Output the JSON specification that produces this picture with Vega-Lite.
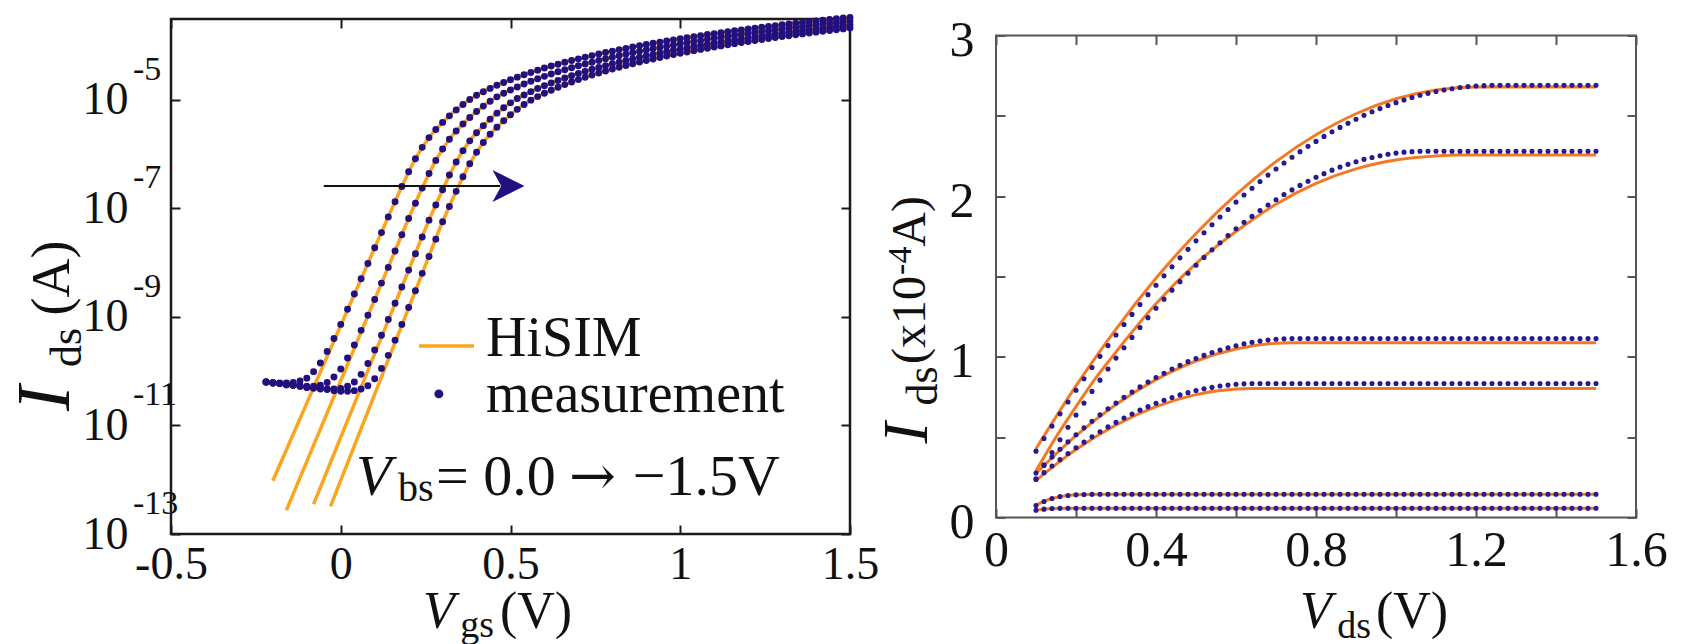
{
"$schema":"https://vega.github.io/schema/vega-lite/v6.json",
"background":"white",
"padding":{"left":6,"top":9,"right":10,"bottom":0},
"bounds":"flush",
"center":true,
"spacing":146,
"config":{"font":"Liberation Serif","view":{"stroke":"#1a1a1a","strokeWidth":2.5},
"axis":{"grid":false,"domain":false,"tickSize":-9,"tickWidth":2,"tickColor":"#1a1a1a","labelColor":"#111","labelFont":"Liberation Serif","labelFlush":false,"labelOverlap":false,"title":null},
"text":{"font":"Liberation Serif","color":"#111"}},
"datasets":{
"one":[{}],
"idvg_meas":[
{"Vbs":0,"Vgs":-0.22,"logIds":-10.2},{"Vbs":0,"Vgs":-0.2,"logIds":-10.21},{"Vbs":0,"Vgs":-0.18,"logIds":-10.22},{"Vbs":0,"Vgs":-0.16,"logIds":-10.22},{"Vbs":0,"Vgs":-0.14,"logIds":-10.21},{"Vbs":0,"Vgs":-0.12,"logIds":-10.18},{"Vbs":0,"Vgs":-0.1,"logIds":-10.13},{"Vbs":0,"Vgs":-0.08,"logIds":-10.01},{"Vbs":0,"Vgs":-0.06,"logIds":-9.85},{"Vbs":0,"Vgs":-0.04,"logIds":-9.64},{"Vbs":0,"Vgs":-0.02,"logIds":-9.4},{"Vbs":0,"Vgs":0,"logIds":-9.14},{"Vbs":0,"Vgs":0.02,"logIds":-8.86},{"Vbs":0,"Vgs":0.04,"logIds":-8.58},{"Vbs":0,"Vgs":0.06,"logIds":-8.3},{"Vbs":0,"Vgs":0.08,"logIds":-8.02},{"Vbs":0,"Vgs":0.1,"logIds":-7.73},{"Vbs":0,"Vgs":0.12,"logIds":-7.45},{"Vbs":0,"Vgs":0.14,"logIds":-7.16},{"Vbs":0,"Vgs":0.16,"logIds":-6.88},{"Vbs":0,"Vgs":0.18,"logIds":-6.6},{"Vbs":0,"Vgs":0.2,"logIds":-6.33},{"Vbs":0,"Vgs":0.22,"logIds":-6.09},{"Vbs":0,"Vgs":0.24,"logIds":-5.88},{"Vbs":0,"Vgs":0.26,"logIds":-5.7},{"Vbs":0,"Vgs":0.28,"logIds":-5.55},{"Vbs":0,"Vgs":0.3,"logIds":-5.42},{"Vbs":0,"Vgs":0.32,"logIds":-5.3},{"Vbs":0,"Vgs":0.34,"logIds":-5.19},{"Vbs":0,"Vgs":0.36,"logIds":-5.09},{"Vbs":0,"Vgs":0.38,"logIds":-5.0},{"Vbs":0,"Vgs":0.4,"logIds":-4.92},{"Vbs":0,"Vgs":0.42,"logIds":-4.855},{"Vbs":0,"Vgs":0.44,"logIds":-4.794},{"Vbs":0,"Vgs":0.46,"logIds":-4.737},{"Vbs":0,"Vgs":0.48,"logIds":-4.684},{"Vbs":0,"Vgs":0.5,"logIds":-4.634},{"Vbs":0,"Vgs":0.52,"logIds":-4.587},{"Vbs":0,"Vgs":0.54,"logIds":-4.542},{"Vbs":0,"Vgs":0.56,"logIds":-4.5},{"Vbs":0,"Vgs":0.58,"logIds":-4.459},{"Vbs":0,"Vgs":0.6,"logIds":-4.42},{"Vbs":0,"Vgs":0.62,"logIds":-4.383},{"Vbs":0,"Vgs":0.64,"logIds":-4.348},{"Vbs":0,"Vgs":0.66,"logIds":-4.314},{"Vbs":0,"Vgs":0.68,"logIds":-4.281},{"Vbs":0,"Vgs":0.7,"logIds":-4.25},{"Vbs":0,"Vgs":0.72,"logIds":-4.219},{"Vbs":0,"Vgs":0.74,"logIds":-4.19},{"Vbs":0,"Vgs":0.76,"logIds":-4.162},{"Vbs":0,"Vgs":0.78,"logIds":-4.134},{"Vbs":0,"Vgs":0.8,"logIds":-4.108},{"Vbs":0,"Vgs":0.82,"logIds":-4.082},{"Vbs":0,"Vgs":0.84,"logIds":-4.057},{"Vbs":0,"Vgs":0.86,"logIds":-4.033},{"Vbs":0,"Vgs":0.88,"logIds":-4.009},{"Vbs":0,"Vgs":0.9,"logIds":-3.986},{"Vbs":0,"Vgs":0.92,"logIds":-3.964},{"Vbs":0,"Vgs":0.94,"logIds":-3.942},{"Vbs":0,"Vgs":0.96,"logIds":-3.921},{"Vbs":0,"Vgs":0.98,"logIds":-3.9},{"Vbs":0,"Vgs":1.0,"logIds":-3.88},{"Vbs":0,"Vgs":1.02,"logIds":-3.86},{"Vbs":0,"Vgs":1.04,"logIds":-3.841},{"Vbs":0,"Vgs":1.06,"logIds":-3.822},{"Vbs":0,"Vgs":1.08,"logIds":-3.803},{"Vbs":0,"Vgs":1.1,"logIds":-3.785},{"Vbs":0,"Vgs":1.12,"logIds":-3.768},{"Vbs":0,"Vgs":1.14,"logIds":-3.75},{"Vbs":0,"Vgs":1.16,"logIds":-3.733},{"Vbs":0,"Vgs":1.18,"logIds":-3.717},{"Vbs":0,"Vgs":1.2,"logIds":-3.7},{"Vbs":0,"Vgs":1.22,"logIds":-3.684},{"Vbs":0,"Vgs":1.24,"logIds":-3.668},{"Vbs":0,"Vgs":1.26,"logIds":-3.653},{"Vbs":0,"Vgs":1.28,"logIds":-3.638},{"Vbs":0,"Vgs":1.3,"logIds":-3.623},{"Vbs":0,"Vgs":1.32,"logIds":-3.608},{"Vbs":0,"Vgs":1.34,"logIds":-3.594},{"Vbs":0,"Vgs":1.36,"logIds":-3.58},{"Vbs":0,"Vgs":1.38,"logIds":-3.566},{"Vbs":0,"Vgs":1.4,"logIds":-3.552},{"Vbs":0,"Vgs":1.42,"logIds":-3.539},{"Vbs":0,"Vgs":1.44,"logIds":-3.525},{"Vbs":0,"Vgs":1.46,"logIds":-3.512},{"Vbs":0,"Vgs":1.48,"logIds":-3.499},{"Vbs":0,"Vgs":1.5,"logIds":-3.487},
{"Vbs":-0.5,"Vgs":-0.22,"logIds":-10.2},{"Vbs":-0.5,"Vgs":-0.2,"logIds":-10.22},{"Vbs":-0.5,"Vgs":-0.18,"logIds":-10.23},{"Vbs":-0.5,"Vgs":-0.16,"logIds":-10.25},{"Vbs":-0.5,"Vgs":-0.14,"logIds":-10.26},{"Vbs":-0.5,"Vgs":-0.12,"logIds":-10.27},{"Vbs":-0.5,"Vgs":-0.1,"logIds":-10.28},{"Vbs":-0.5,"Vgs":-0.08,"logIds":-10.28},{"Vbs":-0.5,"Vgs":-0.06,"logIds":-10.26},{"Vbs":-0.5,"Vgs":-0.04,"logIds":-10.21},{"Vbs":-0.5,"Vgs":-0.02,"logIds":-10.11},{"Vbs":-0.5,"Vgs":0,"logIds":-9.96},{"Vbs":-0.5,"Vgs":0.02,"logIds":-9.76},{"Vbs":-0.5,"Vgs":0.04,"logIds":-9.52},{"Vbs":-0.5,"Vgs":0.06,"logIds":-9.25},{"Vbs":-0.5,"Vgs":0.08,"logIds":-8.97},{"Vbs":-0.5,"Vgs":0.1,"logIds":-8.68},{"Vbs":-0.5,"Vgs":0.12,"logIds":-8.38},{"Vbs":-0.5,"Vgs":0.14,"logIds":-8.09},{"Vbs":-0.5,"Vgs":0.16,"logIds":-7.79},{"Vbs":-0.5,"Vgs":0.18,"logIds":-7.49},{"Vbs":-0.5,"Vgs":0.2,"logIds":-7.19},{"Vbs":-0.5,"Vgs":0.22,"logIds":-6.91},{"Vbs":-0.5,"Vgs":0.24,"logIds":-6.63},{"Vbs":-0.5,"Vgs":0.26,"logIds":-6.36},{"Vbs":-0.5,"Vgs":0.28,"logIds":-6.12},{"Vbs":-0.5,"Vgs":0.3,"logIds":-5.91},{"Vbs":-0.5,"Vgs":0.32,"logIds":-5.73},{"Vbs":-0.5,"Vgs":0.34,"logIds":-5.58},{"Vbs":-0.5,"Vgs":0.36,"logIds":-5.45},{"Vbs":-0.5,"Vgs":0.38,"logIds":-5.33},{"Vbs":-0.5,"Vgs":0.4,"logIds":-5.22},{"Vbs":-0.5,"Vgs":0.42,"logIds":-5.12},{"Vbs":-0.5,"Vgs":0.44,"logIds":-5.03},{"Vbs":-0.5,"Vgs":0.46,"logIds":-4.95},{"Vbs":-0.5,"Vgs":0.48,"logIds":-4.885},{"Vbs":-0.5,"Vgs":0.5,"logIds":-4.824},{"Vbs":-0.5,"Vgs":0.52,"logIds":-4.767},{"Vbs":-0.5,"Vgs":0.54,"logIds":-4.714},{"Vbs":-0.5,"Vgs":0.56,"logIds":-4.664},{"Vbs":-0.5,"Vgs":0.58,"logIds":-4.617},{"Vbs":-0.5,"Vgs":0.6,"logIds":-4.572},{"Vbs":-0.5,"Vgs":0.62,"logIds":-4.53},{"Vbs":-0.5,"Vgs":0.64,"logIds":-4.489},{"Vbs":-0.5,"Vgs":0.66,"logIds":-4.45},{"Vbs":-0.5,"Vgs":0.68,"logIds":-4.413},{"Vbs":-0.5,"Vgs":0.7,"logIds":-4.378},{"Vbs":-0.5,"Vgs":0.72,"logIds":-4.344},{"Vbs":-0.5,"Vgs":0.74,"logIds":-4.311},{"Vbs":-0.5,"Vgs":0.76,"logIds":-4.28},{"Vbs":-0.5,"Vgs":0.78,"logIds":-4.249},{"Vbs":-0.5,"Vgs":0.8,"logIds":-4.22},{"Vbs":-0.5,"Vgs":0.82,"logIds":-4.192},{"Vbs":-0.5,"Vgs":0.84,"logIds":-4.164},{"Vbs":-0.5,"Vgs":0.86,"logIds":-4.138},{"Vbs":-0.5,"Vgs":0.88,"logIds":-4.112},{"Vbs":-0.5,"Vgs":0.9,"logIds":-4.087},{"Vbs":-0.5,"Vgs":0.92,"logIds":-4.063},{"Vbs":-0.5,"Vgs":0.94,"logIds":-4.039},{"Vbs":-0.5,"Vgs":0.96,"logIds":-4.016},{"Vbs":-0.5,"Vgs":0.98,"logIds":-3.994},{"Vbs":-0.5,"Vgs":1.0,"logIds":-3.972},{"Vbs":-0.5,"Vgs":1.02,"logIds":-3.951},{"Vbs":-0.5,"Vgs":1.04,"logIds":-3.93},{"Vbs":-0.5,"Vgs":1.06,"logIds":-3.91},{"Vbs":-0.5,"Vgs":1.08,"logIds":-3.89},{"Vbs":-0.5,"Vgs":1.1,"logIds":-3.871},{"Vbs":-0.5,"Vgs":1.12,"logIds":-3.852},{"Vbs":-0.5,"Vgs":1.14,"logIds":-3.833},{"Vbs":-0.5,"Vgs":1.16,"logIds":-3.815},{"Vbs":-0.5,"Vgs":1.18,"logIds":-3.798},{"Vbs":-0.5,"Vgs":1.2,"logIds":-3.78},{"Vbs":-0.5,"Vgs":1.22,"logIds":-3.763},{"Vbs":-0.5,"Vgs":1.24,"logIds":-3.747},{"Vbs":-0.5,"Vgs":1.26,"logIds":-3.73},{"Vbs":-0.5,"Vgs":1.28,"logIds":-3.714},{"Vbs":-0.5,"Vgs":1.3,"logIds":-3.698},{"Vbs":-0.5,"Vgs":1.32,"logIds":-3.683},{"Vbs":-0.5,"Vgs":1.34,"logIds":-3.668},{"Vbs":-0.5,"Vgs":1.36,"logIds":-3.653},{"Vbs":-0.5,"Vgs":1.38,"logIds":-3.638},{"Vbs":-0.5,"Vgs":1.4,"logIds":-3.624},{"Vbs":-0.5,"Vgs":1.42,"logIds":-3.61},{"Vbs":-0.5,"Vgs":1.44,"logIds":-3.596},{"Vbs":-0.5,"Vgs":1.46,"logIds":-3.582},{"Vbs":-0.5,"Vgs":1.48,"logIds":-3.569},{"Vbs":-0.5,"Vgs":1.5,"logIds":-3.555},
{"Vbs":-1.0,"Vgs":-0.22,"logIds":-10.2},{"Vbs":-1.0,"Vgs":-0.2,"logIds":-10.22},{"Vbs":-1.0,"Vgs":-0.18,"logIds":-10.23},{"Vbs":-1.0,"Vgs":-0.16,"logIds":-10.25},{"Vbs":-1.0,"Vgs":-0.14,"logIds":-10.26},{"Vbs":-1.0,"Vgs":-0.12,"logIds":-10.28},{"Vbs":-1.0,"Vgs":-0.1,"logIds":-10.3},{"Vbs":-1.0,"Vgs":-0.08,"logIds":-10.31},{"Vbs":-1.0,"Vgs":-0.06,"logIds":-10.32},{"Vbs":-1.0,"Vgs":-0.04,"logIds":-10.33},{"Vbs":-1.0,"Vgs":-0.02,"logIds":-10.33},{"Vbs":-1.0,"Vgs":0,"logIds":-10.32},{"Vbs":-1.0,"Vgs":0.02,"logIds":-10.28},{"Vbs":-1.0,"Vgs":0.04,"logIds":-10.2},{"Vbs":-1.0,"Vgs":0.06,"logIds":-10.06},{"Vbs":-1.0,"Vgs":0.08,"logIds":-9.86},{"Vbs":-1.0,"Vgs":0.1,"logIds":-9.61},{"Vbs":-1.0,"Vgs":0.12,"logIds":-9.34},{"Vbs":-1.0,"Vgs":0.14,"logIds":-9.05},{"Vbs":-1.0,"Vgs":0.16,"logIds":-8.75},{"Vbs":-1.0,"Vgs":0.18,"logIds":-8.45},{"Vbs":-1.0,"Vgs":0.2,"logIds":-8.14},{"Vbs":-1.0,"Vgs":0.22,"logIds":-7.84},{"Vbs":-1.0,"Vgs":0.24,"logIds":-7.53},{"Vbs":-1.0,"Vgs":0.26,"logIds":-7.22},{"Vbs":-1.0,"Vgs":0.28,"logIds":-6.94},{"Vbs":-1.0,"Vgs":0.3,"logIds":-6.66},{"Vbs":-1.0,"Vgs":0.32,"logIds":-6.39},{"Vbs":-1.0,"Vgs":0.34,"logIds":-6.15},{"Vbs":-1.0,"Vgs":0.36,"logIds":-5.94},{"Vbs":-1.0,"Vgs":0.38,"logIds":-5.76},{"Vbs":-1.0,"Vgs":0.4,"logIds":-5.61},{"Vbs":-1.0,"Vgs":0.42,"logIds":-5.48},{"Vbs":-1.0,"Vgs":0.44,"logIds":-5.36},{"Vbs":-1.0,"Vgs":0.46,"logIds":-5.25},{"Vbs":-1.0,"Vgs":0.48,"logIds":-5.15},{"Vbs":-1.0,"Vgs":0.5,"logIds":-5.06},{"Vbs":-1.0,"Vgs":0.52,"logIds":-4.98},{"Vbs":-1.0,"Vgs":0.54,"logIds":-4.915},{"Vbs":-1.0,"Vgs":0.56,"logIds":-4.854},{"Vbs":-1.0,"Vgs":0.58,"logIds":-4.797},{"Vbs":-1.0,"Vgs":0.6,"logIds":-4.744},{"Vbs":-1.0,"Vgs":0.62,"logIds":-4.694},{"Vbs":-1.0,"Vgs":0.64,"logIds":-4.647},{"Vbs":-1.0,"Vgs":0.66,"logIds":-4.602},{"Vbs":-1.0,"Vgs":0.68,"logIds":-4.56},{"Vbs":-1.0,"Vgs":0.7,"logIds":-4.519},{"Vbs":-1.0,"Vgs":0.72,"logIds":-4.48},{"Vbs":-1.0,"Vgs":0.74,"logIds":-4.443},{"Vbs":-1.0,"Vgs":0.76,"logIds":-4.408},{"Vbs":-1.0,"Vgs":0.78,"logIds":-4.374},{"Vbs":-1.0,"Vgs":0.8,"logIds":-4.341},{"Vbs":-1.0,"Vgs":0.82,"logIds":-4.31},{"Vbs":-1.0,"Vgs":0.84,"logIds":-4.279},{"Vbs":-1.0,"Vgs":0.86,"logIds":-4.25},{"Vbs":-1.0,"Vgs":0.88,"logIds":-4.222},{"Vbs":-1.0,"Vgs":0.9,"logIds":-4.194},{"Vbs":-1.0,"Vgs":0.92,"logIds":-4.168},{"Vbs":-1.0,"Vgs":0.94,"logIds":-4.142},{"Vbs":-1.0,"Vgs":0.96,"logIds":-4.117},{"Vbs":-1.0,"Vgs":0.98,"logIds":-4.093},{"Vbs":-1.0,"Vgs":1.0,"logIds":-4.069},{"Vbs":-1.0,"Vgs":1.02,"logIds":-4.046},{"Vbs":-1.0,"Vgs":1.04,"logIds":-4.024},{"Vbs":-1.0,"Vgs":1.06,"logIds":-4.002},{"Vbs":-1.0,"Vgs":1.08,"logIds":-3.981},{"Vbs":-1.0,"Vgs":1.1,"logIds":-3.96},{"Vbs":-1.0,"Vgs":1.12,"logIds":-3.94},{"Vbs":-1.0,"Vgs":1.14,"logIds":-3.92},{"Vbs":-1.0,"Vgs":1.16,"logIds":-3.901},{"Vbs":-1.0,"Vgs":1.18,"logIds":-3.882},{"Vbs":-1.0,"Vgs":1.2,"logIds":-3.863},{"Vbs":-1.0,"Vgs":1.22,"logIds":-3.845},{"Vbs":-1.0,"Vgs":1.24,"logIds":-3.828},{"Vbs":-1.0,"Vgs":1.26,"logIds":-3.81},{"Vbs":-1.0,"Vgs":1.28,"logIds":-3.793},{"Vbs":-1.0,"Vgs":1.3,"logIds":-3.777},{"Vbs":-1.0,"Vgs":1.32,"logIds":-3.76},{"Vbs":-1.0,"Vgs":1.34,"logIds":-3.744},{"Vbs":-1.0,"Vgs":1.36,"logIds":-3.728},{"Vbs":-1.0,"Vgs":1.38,"logIds":-3.713},{"Vbs":-1.0,"Vgs":1.4,"logIds":-3.698},{"Vbs":-1.0,"Vgs":1.42,"logIds":-3.683},{"Vbs":-1.0,"Vgs":1.44,"logIds":-3.668},{"Vbs":-1.0,"Vgs":1.46,"logIds":-3.654},{"Vbs":-1.0,"Vgs":1.48,"logIds":-3.64},{"Vbs":-1.0,"Vgs":1.5,"logIds":-3.626},
{"Vbs":-1.5,"Vgs":-0.22,"logIds":-10.2},{"Vbs":-1.5,"Vgs":-0.2,"logIds":-10.22},{"Vbs":-1.5,"Vgs":-0.18,"logIds":-10.23},{"Vbs":-1.5,"Vgs":-0.16,"logIds":-10.25},{"Vbs":-1.5,"Vgs":-0.14,"logIds":-10.26},{"Vbs":-1.5,"Vgs":-0.12,"logIds":-10.28},{"Vbs":-1.5,"Vgs":-0.1,"logIds":-10.3},{"Vbs":-1.5,"Vgs":-0.08,"logIds":-10.31},{"Vbs":-1.5,"Vgs":-0.06,"logIds":-10.33},{"Vbs":-1.5,"Vgs":-0.04,"logIds":-10.34},{"Vbs":-1.5,"Vgs":-0.02,"logIds":-10.36},{"Vbs":-1.5,"Vgs":0,"logIds":-10.37},{"Vbs":-1.5,"Vgs":0.02,"logIds":-10.37},{"Vbs":-1.5,"Vgs":0.04,"logIds":-10.36},{"Vbs":-1.5,"Vgs":0.06,"logIds":-10.33},{"Vbs":-1.5,"Vgs":0.08,"logIds":-10.27},{"Vbs":-1.5,"Vgs":0.1,"logIds":-10.14},{"Vbs":-1.5,"Vgs":0.12,"logIds":-9.95},{"Vbs":-1.5,"Vgs":0.14,"logIds":-9.71},{"Vbs":-1.5,"Vgs":0.16,"logIds":-9.43},{"Vbs":-1.5,"Vgs":0.18,"logIds":-9.14},{"Vbs":-1.5,"Vgs":0.2,"logIds":-8.83},{"Vbs":-1.5,"Vgs":0.22,"logIds":-8.52},{"Vbs":-1.5,"Vgs":0.24,"logIds":-8.2},{"Vbs":-1.5,"Vgs":0.26,"logIds":-7.89},{"Vbs":-1.5,"Vgs":0.28,"logIds":-7.57},{"Vbs":-1.5,"Vgs":0.3,"logIds":-7.25},{"Vbs":-1.5,"Vgs":0.32,"logIds":-6.97},{"Vbs":-1.5,"Vgs":0.34,"logIds":-6.69},{"Vbs":-1.5,"Vgs":0.36,"logIds":-6.42},{"Vbs":-1.5,"Vgs":0.38,"logIds":-6.18},{"Vbs":-1.5,"Vgs":0.4,"logIds":-5.97},{"Vbs":-1.5,"Vgs":0.42,"logIds":-5.79},{"Vbs":-1.5,"Vgs":0.44,"logIds":-5.64},{"Vbs":-1.5,"Vgs":0.46,"logIds":-5.51},{"Vbs":-1.5,"Vgs":0.48,"logIds":-5.39},{"Vbs":-1.5,"Vgs":0.5,"logIds":-5.28},{"Vbs":-1.5,"Vgs":0.52,"logIds":-5.18},{"Vbs":-1.5,"Vgs":0.54,"logIds":-5.09},{"Vbs":-1.5,"Vgs":0.56,"logIds":-5.01},{"Vbs":-1.5,"Vgs":0.58,"logIds":-4.945},{"Vbs":-1.5,"Vgs":0.6,"logIds":-4.884},{"Vbs":-1.5,"Vgs":0.62,"logIds":-4.827},{"Vbs":-1.5,"Vgs":0.64,"logIds":-4.774},{"Vbs":-1.5,"Vgs":0.66,"logIds":-4.724},{"Vbs":-1.5,"Vgs":0.68,"logIds":-4.677},{"Vbs":-1.5,"Vgs":0.7,"logIds":-4.632},{"Vbs":-1.5,"Vgs":0.72,"logIds":-4.59},{"Vbs":-1.5,"Vgs":0.74,"logIds":-4.549},{"Vbs":-1.5,"Vgs":0.76,"logIds":-4.51},{"Vbs":-1.5,"Vgs":0.78,"logIds":-4.473},{"Vbs":-1.5,"Vgs":0.8,"logIds":-4.438},{"Vbs":-1.5,"Vgs":0.82,"logIds":-4.404},{"Vbs":-1.5,"Vgs":0.84,"logIds":-4.371},{"Vbs":-1.5,"Vgs":0.86,"logIds":-4.34},{"Vbs":-1.5,"Vgs":0.88,"logIds":-4.309},{"Vbs":-1.5,"Vgs":0.9,"logIds":-4.28},{"Vbs":-1.5,"Vgs":0.92,"logIds":-4.252},{"Vbs":-1.5,"Vgs":0.94,"logIds":-4.224},{"Vbs":-1.5,"Vgs":0.96,"logIds":-4.198},{"Vbs":-1.5,"Vgs":0.98,"logIds":-4.172},{"Vbs":-1.5,"Vgs":1.0,"logIds":-4.147},{"Vbs":-1.5,"Vgs":1.02,"logIds":-4.123},{"Vbs":-1.5,"Vgs":1.04,"logIds":-4.099},{"Vbs":-1.5,"Vgs":1.06,"logIds":-4.076},{"Vbs":-1.5,"Vgs":1.08,"logIds":-4.054},{"Vbs":-1.5,"Vgs":1.1,"logIds":-4.032},{"Vbs":-1.5,"Vgs":1.12,"logIds":-4.011},{"Vbs":-1.5,"Vgs":1.14,"logIds":-3.99},{"Vbs":-1.5,"Vgs":1.16,"logIds":-3.97},{"Vbs":-1.5,"Vgs":1.18,"logIds":-3.95},{"Vbs":-1.5,"Vgs":1.2,"logIds":-3.931},{"Vbs":-1.5,"Vgs":1.22,"logIds":-3.912},{"Vbs":-1.5,"Vgs":1.24,"logIds":-3.893},{"Vbs":-1.5,"Vgs":1.26,"logIds":-3.875},{"Vbs":-1.5,"Vgs":1.28,"logIds":-3.858},{"Vbs":-1.5,"Vgs":1.3,"logIds":-3.84},{"Vbs":-1.5,"Vgs":1.32,"logIds":-3.823},{"Vbs":-1.5,"Vgs":1.34,"logIds":-3.807},{"Vbs":-1.5,"Vgs":1.36,"logIds":-3.79},{"Vbs":-1.5,"Vgs":1.38,"logIds":-3.774},{"Vbs":-1.5,"Vgs":1.4,"logIds":-3.758},{"Vbs":-1.5,"Vgs":1.42,"logIds":-3.743},{"Vbs":-1.5,"Vgs":1.44,"logIds":-3.728},{"Vbs":-1.5,"Vgs":1.46,"logIds":-3.713},{"Vbs":-1.5,"Vgs":1.48,"logIds":-3.698},{"Vbs":-1.5,"Vgs":1.5,"logIds":-3.684}
],
"idvg_hisim":[
{"Vbs":0,"Vgs":-0.2,"logIds":-12.02},{"Vbs":0,"Vgs":-0.1,"logIds":-10.59},{"Vbs":0,"Vgs":0,"logIds":-9.16},{"Vbs":0,"Vgs":0.1,"logIds":-7.73},{"Vbs":0,"Vgs":0.14,"logIds":-7.16},{"Vbs":0,"Vgs":0.18,"logIds":-6.6},{"Vbs":0,"Vgs":0.22,"logIds":-6.09},{"Vbs":0,"Vgs":0.26,"logIds":-5.7},{"Vbs":0,"Vgs":0.3,"logIds":-5.42},{"Vbs":0,"Vgs":0.36,"logIds":-5.09},{"Vbs":0,"Vgs":0.4,"logIds":-4.92},{"Vbs":0,"Vgs":0.5,"logIds":-4.634},{"Vbs":0,"Vgs":0.6,"logIds":-4.42},{"Vbs":0,"Vgs":0.7,"logIds":-4.25},{"Vbs":0,"Vgs":0.8,"logIds":-4.108},{"Vbs":0,"Vgs":1.0,"logIds":-3.88},{"Vbs":0,"Vgs":1.2,"logIds":-3.7},{"Vbs":0,"Vgs":1.5,"logIds":-3.487},
{"Vbs":-0.5,"Vgs":-0.16,"logIds":-12.56},{"Vbs":-0.5,"Vgs":-0.06,"logIds":-11.07},{"Vbs":-0.5,"Vgs":0.04,"logIds":-9.578},{"Vbs":-0.5,"Vgs":0.14,"logIds":-8.086},{"Vbs":-0.5,"Vgs":0.2,"logIds":-7.19},{"Vbs":-0.5,"Vgs":0.24,"logIds":-6.63},{"Vbs":-0.5,"Vgs":0.28,"logIds":-6.12},{"Vbs":-0.5,"Vgs":0.32,"logIds":-5.73},{"Vbs":-0.5,"Vgs":0.36,"logIds":-5.45},{"Vbs":-0.5,"Vgs":0.42,"logIds":-5.12},{"Vbs":-0.5,"Vgs":0.46,"logIds":-4.95},{"Vbs":-0.5,"Vgs":0.56,"logIds":-4.664},{"Vbs":-0.5,"Vgs":0.66,"logIds":-4.45},{"Vbs":-0.5,"Vgs":0.76,"logIds":-4.28},{"Vbs":-0.5,"Vgs":0.86,"logIds":-4.138},{"Vbs":-0.5,"Vgs":1.06,"logIds":-3.91},{"Vbs":-0.5,"Vgs":1.26,"logIds":-3.73},{"Vbs":-0.5,"Vgs":1.5,"logIds":-3.555},
{"Vbs":-1.0,"Vgs":-0.08,"logIds":-12.45},{"Vbs":-1.0,"Vgs":0.02,"logIds":-10.912},{"Vbs":-1.0,"Vgs":0.12,"logIds":-9.374},{"Vbs":-1.0,"Vgs":0.2,"logIds":-8.143},{"Vbs":-1.0,"Vgs":0.26,"logIds":-7.22},{"Vbs":-1.0,"Vgs":0.3,"logIds":-6.66},{"Vbs":-1.0,"Vgs":0.34,"logIds":-6.15},{"Vbs":-1.0,"Vgs":0.38,"logIds":-5.76},{"Vbs":-1.0,"Vgs":0.42,"logIds":-5.48},{"Vbs":-1.0,"Vgs":0.48,"logIds":-5.15},{"Vbs":-1.0,"Vgs":0.52,"logIds":-4.98},{"Vbs":-1.0,"Vgs":0.62,"logIds":-4.694},{"Vbs":-1.0,"Vgs":0.72,"logIds":-4.48},{"Vbs":-1.0,"Vgs":0.82,"logIds":-4.31},{"Vbs":-1.0,"Vgs":0.92,"logIds":-4.168},{"Vbs":-1.0,"Vgs":1.12,"logIds":-3.94},{"Vbs":-1.0,"Vgs":1.32,"logIds":-3.76},{"Vbs":-1.0,"Vgs":1.5,"logIds":-3.626},
{"Vbs":-1.5,"Vgs":-0.03,"logIds":-12.49},{"Vbs":-1.5,"Vgs":0.06,"logIds":-11.06},{"Vbs":-1.5,"Vgs":0.16,"logIds":-9.473},{"Vbs":-1.5,"Vgs":0.24,"logIds":-8.203},{"Vbs":-1.5,"Vgs":0.3,"logIds":-7.25},{"Vbs":-1.5,"Vgs":0.34,"logIds":-6.69},{"Vbs":-1.5,"Vgs":0.38,"logIds":-6.18},{"Vbs":-1.5,"Vgs":0.42,"logIds":-5.79},{"Vbs":-1.5,"Vgs":0.46,"logIds":-5.51},{"Vbs":-1.5,"Vgs":0.52,"logIds":-5.18},{"Vbs":-1.5,"Vgs":0.56,"logIds":-5.01},{"Vbs":-1.5,"Vgs":0.66,"logIds":-4.724},{"Vbs":-1.5,"Vgs":0.76,"logIds":-4.51},{"Vbs":-1.5,"Vgs":0.86,"logIds":-4.34},{"Vbs":-1.5,"Vgs":0.96,"logIds":-4.198},{"Vbs":-1.5,"Vgs":1.16,"logIds":-3.97},{"Vbs":-1.5,"Vgs":1.36,"logIds":-3.79},{"Vbs":-1.5,"Vgs":1.5,"logIds":-3.684}
],
"decades":[{"logIds":-13,"exp":"-13"},{"logIds":-11,"exp":"-11"},{"logIds":-9,"exp":"-9"},{"logIds":-7,"exp":"-7"},{"logIds":-5,"exp":"-5"}],
"idvd_meas":[
{"curve":"A","Vds":0.1,"Ids":0.413},{"curve":"A","Vds":0.12,"Ids":0.492},{"curve":"A","Vds":0.14,"Ids":0.569},{"curve":"A","Vds":0.16,"Ids":0.645},{"curve":"A","Vds":0.18,"Ids":0.719},{"curve":"A","Vds":0.2,"Ids":0.792},{"curve":"A","Vds":0.22,"Ids":0.864},{"curve":"A","Vds":0.24,"Ids":0.934},{"curve":"A","Vds":0.26,"Ids":1.003},{"curve":"A","Vds":0.28,"Ids":1.07},{"curve":"A","Vds":0.3,"Ids":1.136},{"curve":"A","Vds":0.32,"Ids":1.201},{"curve":"A","Vds":0.34,"Ids":1.264},{"curve":"A","Vds":0.36,"Ids":1.326},{"curve":"A","Vds":0.38,"Ids":1.387},{"curve":"A","Vds":0.4,"Ids":1.446},{"curve":"A","Vds":0.42,"Ids":1.504},{"curve":"A","Vds":0.44,"Ids":1.56},{"curve":"A","Vds":0.46,"Ids":1.616},{"curve":"A","Vds":0.48,"Ids":1.669},{"curve":"A","Vds":0.5,"Ids":1.722},{"curve":"A","Vds":0.52,"Ids":1.772},{"curve":"A","Vds":0.54,"Ids":1.822},{"curve":"A","Vds":0.56,"Ids":1.87},{"curve":"A","Vds":0.58,"Ids":1.917},{"curve":"A","Vds":0.6,"Ids":1.963},{"curve":"A","Vds":0.62,"Ids":2.007},{"curve":"A","Vds":0.64,"Ids":2.049},{"curve":"A","Vds":0.66,"Ids":2.091},{"curve":"A","Vds":0.68,"Ids":2.131},{"curve":"A","Vds":0.7,"Ids":2.169},{"curve":"A","Vds":0.72,"Ids":2.206},{"curve":"A","Vds":0.74,"Ids":2.242},{"curve":"A","Vds":0.76,"Ids":2.277},{"curve":"A","Vds":0.78,"Ids":2.31},{"curve":"A","Vds":0.8,"Ids":2.341},{"curve":"A","Vds":0.82,"Ids":2.372},{"curve":"A","Vds":0.84,"Ids":2.401},{"curve":"A","Vds":0.86,"Ids":2.428},{"curve":"A","Vds":0.88,"Ids":2.454},{"curve":"A","Vds":0.9,"Ids":2.479},{"curve":"A","Vds":0.92,"Ids":2.503},{"curve":"A","Vds":0.94,"Ids":2.525},{"curve":"A","Vds":0.96,"Ids":2.545},{"curve":"A","Vds":0.98,"Ids":2.564},{"curve":"A","Vds":1.0,"Ids":2.582},{"curve":"A","Vds":1.02,"Ids":2.599},{"curve":"A","Vds":1.04,"Ids":2.614},{"curve":"A","Vds":1.06,"Ids":2.628},{"curve":"A","Vds":1.08,"Ids":2.64},{"curve":"A","Vds":1.1,"Ids":2.651},{"curve":"A","Vds":1.12,"Ids":2.661},{"curve":"A","Vds":1.14,"Ids":2.669},{"curve":"A","Vds":1.16,"Ids":2.676},{"curve":"A","Vds":1.18,"Ids":2.682},{"curve":"A","Vds":1.2,"Ids":2.686},{"curve":"A","Vds":1.22,"Ids":2.688},{"curve":"A","Vds":1.24,"Ids":2.69},{"curve":"A","Vds":1.26,"Ids":2.69},{"curve":"A","Vds":1.28,"Ids":2.69},{"curve":"A","Vds":1.3,"Ids":2.69},{"curve":"A","Vds":1.32,"Ids":2.69},{"curve":"A","Vds":1.34,"Ids":2.69},{"curve":"A","Vds":1.36,"Ids":2.69},{"curve":"A","Vds":1.38,"Ids":2.69},{"curve":"A","Vds":1.4,"Ids":2.69},{"curve":"A","Vds":1.42,"Ids":2.69},{"curve":"A","Vds":1.44,"Ids":2.69},{"curve":"A","Vds":1.46,"Ids":2.69},{"curve":"A","Vds":1.48,"Ids":2.69},{"curve":"A","Vds":1.5,"Ids":2.69},
{"curve":"B","Vds":0.1,"Ids":0.241},{"curve":"B","Vds":0.12,"Ids":0.324},{"curve":"B","Vds":0.14,"Ids":0.405},{"curve":"B","Vds":0.16,"Ids":0.484},{"curve":"B","Vds":0.18,"Ids":0.562},{"curve":"B","Vds":0.2,"Ids":0.638},{"curve":"B","Vds":0.22,"Ids":0.712},{"curve":"B","Vds":0.24,"Ids":0.785},{"curve":"B","Vds":0.26,"Ids":0.855},{"curve":"B","Vds":0.28,"Ids":0.924},{"curve":"B","Vds":0.3,"Ids":0.992},{"curve":"B","Vds":0.32,"Ids":1.057},{"curve":"B","Vds":0.34,"Ids":1.121},{"curve":"B","Vds":0.36,"Ids":1.183},{"curve":"B","Vds":0.38,"Ids":1.244},{"curve":"B","Vds":0.4,"Ids":1.302},{"curve":"B","Vds":0.42,"Ids":1.359},{"curve":"B","Vds":0.44,"Ids":1.415},{"curve":"B","Vds":0.46,"Ids":1.468},{"curve":"B","Vds":0.48,"Ids":1.52},{"curve":"B","Vds":0.5,"Ids":1.57},{"curve":"B","Vds":0.52,"Ids":1.619},{"curve":"B","Vds":0.54,"Ids":1.666},{"curve":"B","Vds":0.56,"Ids":1.71},{"curve":"B","Vds":0.58,"Ids":1.755},{"curve":"B","Vds":0.6,"Ids":1.797},{"curve":"B","Vds":0.62,"Ids":1.837},{"curve":"B","Vds":0.64,"Ids":1.874},{"curve":"B","Vds":0.66,"Ids":1.911},{"curve":"B","Vds":0.68,"Ids":1.945},{"curve":"B","Vds":0.7,"Ids":1.978},{"curve":"B","Vds":0.72,"Ids":2.01},{"curve":"B","Vds":0.74,"Ids":2.039},{"curve":"B","Vds":0.76,"Ids":2.067},{"curve":"B","Vds":0.78,"Ids":2.093},{"curve":"B","Vds":0.8,"Ids":2.118},{"curve":"B","Vds":0.82,"Ids":2.14},{"curve":"B","Vds":0.84,"Ids":2.162},{"curve":"B","Vds":0.86,"Ids":2.181},{"curve":"B","Vds":0.88,"Ids":2.198},{"curve":"B","Vds":0.9,"Ids":2.214},{"curve":"B","Vds":0.92,"Ids":2.229},{"curve":"B","Vds":0.94,"Ids":2.241},{"curve":"B","Vds":0.96,"Ids":2.252},{"curve":"B","Vds":0.98,"Ids":2.261},{"curve":"B","Vds":1.0,"Ids":2.268},{"curve":"B","Vds":1.02,"Ids":2.274},{"curve":"B","Vds":1.04,"Ids":2.277},{"curve":"B","Vds":1.06,"Ids":2.28},{"curve":"B","Vds":1.08,"Ids":2.28},{"curve":"B","Vds":1.1,"Ids":2.28},{"curve":"B","Vds":1.12,"Ids":2.28},{"curve":"B","Vds":1.14,"Ids":2.28},{"curve":"B","Vds":1.16,"Ids":2.28},{"curve":"B","Vds":1.18,"Ids":2.28},{"curve":"B","Vds":1.2,"Ids":2.28},{"curve":"B","Vds":1.22,"Ids":2.28},{"curve":"B","Vds":1.24,"Ids":2.28},{"curve":"B","Vds":1.26,"Ids":2.28},{"curve":"B","Vds":1.28,"Ids":2.28},{"curve":"B","Vds":1.3,"Ids":2.28},{"curve":"B","Vds":1.32,"Ids":2.28},{"curve":"B","Vds":1.34,"Ids":2.28},{"curve":"B","Vds":1.36,"Ids":2.28},{"curve":"B","Vds":1.38,"Ids":2.28},{"curve":"B","Vds":1.4,"Ids":2.28},{"curve":"B","Vds":1.42,"Ids":2.28},{"curve":"B","Vds":1.44,"Ids":2.28},{"curve":"B","Vds":1.46,"Ids":2.28},{"curve":"B","Vds":1.48,"Ids":2.28},{"curve":"B","Vds":1.5,"Ids":2.28},
{"curve":"C","Vds":0.1,"Ids":0.277},{"curve":"C","Vds":0.12,"Ids":0.328},{"curve":"C","Vds":0.14,"Ids":0.377},{"curve":"C","Vds":0.16,"Ids":0.425},{"curve":"C","Vds":0.18,"Ids":0.471},{"curve":"C","Vds":0.2,"Ids":0.515},{"curve":"C","Vds":0.22,"Ids":0.558},{"curve":"C","Vds":0.24,"Ids":0.599},{"curve":"C","Vds":0.26,"Ids":0.639},{"curve":"C","Vds":0.28,"Ids":0.677},{"curve":"C","Vds":0.3,"Ids":0.713},{"curve":"C","Vds":0.32,"Ids":0.748},{"curve":"C","Vds":0.34,"Ids":0.781},{"curve":"C","Vds":0.36,"Ids":0.813},{"curve":"C","Vds":0.38,"Ids":0.843},{"curve":"C","Vds":0.4,"Ids":0.871},{"curve":"C","Vds":0.42,"Ids":0.898},{"curve":"C","Vds":0.44,"Ids":0.924},{"curve":"C","Vds":0.46,"Ids":0.947},{"curve":"C","Vds":0.48,"Ids":0.97},{"curve":"C","Vds":0.5,"Ids":0.99},{"curve":"C","Vds":0.52,"Ids":1.009},{"curve":"C","Vds":0.54,"Ids":1.027},{"curve":"C","Vds":0.56,"Ids":1.042},{"curve":"C","Vds":0.58,"Ids":1.057},{"curve":"C","Vds":0.6,"Ids":1.069},{"curve":"C","Vds":0.62,"Ids":1.081},{"curve":"C","Vds":0.64,"Ids":1.09},{"curve":"C","Vds":0.66,"Ids":1.098},{"curve":"C","Vds":0.68,"Ids":1.104},{"curve":"C","Vds":0.7,"Ids":1.109},{"curve":"C","Vds":0.72,"Ids":1.112},{"curve":"C","Vds":0.74,"Ids":1.114},{"curve":"C","Vds":0.76,"Ids":1.114},{"curve":"C","Vds":0.78,"Ids":1.114},{"curve":"C","Vds":0.8,"Ids":1.114},{"curve":"C","Vds":0.82,"Ids":1.114},{"curve":"C","Vds":0.84,"Ids":1.114},{"curve":"C","Vds":0.86,"Ids":1.114},{"curve":"C","Vds":0.88,"Ids":1.114},{"curve":"C","Vds":0.9,"Ids":1.114},{"curve":"C","Vds":0.92,"Ids":1.114},{"curve":"C","Vds":0.94,"Ids":1.114},{"curve":"C","Vds":0.96,"Ids":1.114},{"curve":"C","Vds":0.98,"Ids":1.114},{"curve":"C","Vds":1.0,"Ids":1.114},{"curve":"C","Vds":1.02,"Ids":1.114},{"curve":"C","Vds":1.04,"Ids":1.114},{"curve":"C","Vds":1.06,"Ids":1.114},{"curve":"C","Vds":1.08,"Ids":1.114},{"curve":"C","Vds":1.1,"Ids":1.114},{"curve":"C","Vds":1.12,"Ids":1.114},{"curve":"C","Vds":1.14,"Ids":1.114},{"curve":"C","Vds":1.16,"Ids":1.114},{"curve":"C","Vds":1.18,"Ids":1.114},{"curve":"C","Vds":1.2,"Ids":1.114},{"curve":"C","Vds":1.22,"Ids":1.114},{"curve":"C","Vds":1.24,"Ids":1.114},{"curve":"C","Vds":1.26,"Ids":1.114},{"curve":"C","Vds":1.28,"Ids":1.114},{"curve":"C","Vds":1.3,"Ids":1.114},{"curve":"C","Vds":1.32,"Ids":1.114},{"curve":"C","Vds":1.34,"Ids":1.114},{"curve":"C","Vds":1.36,"Ids":1.114},{"curve":"C","Vds":1.38,"Ids":1.114},{"curve":"C","Vds":1.4,"Ids":1.114},{"curve":"C","Vds":1.42,"Ids":1.114},{"curve":"C","Vds":1.44,"Ids":1.114},{"curve":"C","Vds":1.46,"Ids":1.114},{"curve":"C","Vds":1.48,"Ids":1.114},{"curve":"C","Vds":1.5,"Ids":1.114},
{"curve":"D","Vds":0.1,"Ids":0.237},{"curve":"D","Vds":0.12,"Ids":0.279},{"curve":"D","Vds":0.14,"Ids":0.321},{"curve":"D","Vds":0.16,"Ids":0.36},{"curve":"D","Vds":0.18,"Ids":0.398},{"curve":"D","Vds":0.2,"Ids":0.434},{"curve":"D","Vds":0.22,"Ids":0.469},{"curve":"D","Vds":0.24,"Ids":0.502},{"curve":"D","Vds":0.26,"Ids":0.534},{"curve":"D","Vds":0.28,"Ids":0.564},{"curve":"D","Vds":0.3,"Ids":0.592},{"curve":"D","Vds":0.32,"Ids":0.619},{"curve":"D","Vds":0.34,"Ids":0.644},{"curve":"D","Vds":0.36,"Ids":0.668},{"curve":"D","Vds":0.38,"Ids":0.69},{"curve":"D","Vds":0.4,"Ids":0.711},{"curve":"D","Vds":0.42,"Ids":0.73},{"curve":"D","Vds":0.44,"Ids":0.747},{"curve":"D","Vds":0.46,"Ids":0.763},{"curve":"D","Vds":0.48,"Ids":0.777},{"curve":"D","Vds":0.5,"Ids":0.79},{"curve":"D","Vds":0.52,"Ids":0.801},{"curve":"D","Vds":0.54,"Ids":0.81},{"curve":"D","Vds":0.56,"Ids":0.818},{"curve":"D","Vds":0.58,"Ids":0.824},{"curve":"D","Vds":0.6,"Ids":0.829},{"curve":"D","Vds":0.62,"Ids":0.832},{"curve":"D","Vds":0.64,"Ids":0.834},{"curve":"D","Vds":0.66,"Ids":0.834},{"curve":"D","Vds":0.68,"Ids":0.834},{"curve":"D","Vds":0.7,"Ids":0.834},{"curve":"D","Vds":0.72,"Ids":0.834},{"curve":"D","Vds":0.74,"Ids":0.834},{"curve":"D","Vds":0.76,"Ids":0.834},{"curve":"D","Vds":0.78,"Ids":0.834},{"curve":"D","Vds":0.8,"Ids":0.834},{"curve":"D","Vds":0.82,"Ids":0.834},{"curve":"D","Vds":0.84,"Ids":0.834},{"curve":"D","Vds":0.86,"Ids":0.834},{"curve":"D","Vds":0.88,"Ids":0.834},{"curve":"D","Vds":0.9,"Ids":0.834},{"curve":"D","Vds":0.92,"Ids":0.834},{"curve":"D","Vds":0.94,"Ids":0.834},{"curve":"D","Vds":0.96,"Ids":0.834},{"curve":"D","Vds":0.98,"Ids":0.834},{"curve":"D","Vds":1.0,"Ids":0.834},{"curve":"D","Vds":1.02,"Ids":0.834},{"curve":"D","Vds":1.04,"Ids":0.834},{"curve":"D","Vds":1.06,"Ids":0.834},{"curve":"D","Vds":1.08,"Ids":0.834},{"curve":"D","Vds":1.1,"Ids":0.834},{"curve":"D","Vds":1.12,"Ids":0.834},{"curve":"D","Vds":1.14,"Ids":0.834},{"curve":"D","Vds":1.16,"Ids":0.834},{"curve":"D","Vds":1.18,"Ids":0.834},{"curve":"D","Vds":1.2,"Ids":0.834},{"curve":"D","Vds":1.22,"Ids":0.834},{"curve":"D","Vds":1.24,"Ids":0.834},{"curve":"D","Vds":1.26,"Ids":0.834},{"curve":"D","Vds":1.28,"Ids":0.834},{"curve":"D","Vds":1.3,"Ids":0.834},{"curve":"D","Vds":1.32,"Ids":0.834},{"curve":"D","Vds":1.34,"Ids":0.834},{"curve":"D","Vds":1.36,"Ids":0.834},{"curve":"D","Vds":1.38,"Ids":0.834},{"curve":"D","Vds":1.4,"Ids":0.834},{"curve":"D","Vds":1.42,"Ids":0.834},{"curve":"D","Vds":1.44,"Ids":0.834},{"curve":"D","Vds":1.46,"Ids":0.834},{"curve":"D","Vds":1.48,"Ids":0.834},{"curve":"D","Vds":1.5,"Ids":0.834},
{"curve":"E","Vds":0.1,"Ids":0.075},{"curve":"E","Vds":0.12,"Ids":0.1},{"curve":"E","Vds":0.14,"Ids":0.118},{"curve":"E","Vds":0.16,"Ids":0.13},{"curve":"E","Vds":0.18,"Ids":0.137},{"curve":"E","Vds":0.2,"Ids":0.141},{"curve":"E","Vds":0.22,"Ids":0.143},{"curve":"E","Vds":0.24,"Ids":0.144},{"curve":"E","Vds":0.26,"Ids":0.145},{"curve":"E","Vds":0.28,"Ids":0.145},{"curve":"E","Vds":0.3,"Ids":0.145},{"curve":"E","Vds":0.32,"Ids":0.145},{"curve":"E","Vds":0.34,"Ids":0.145},{"curve":"E","Vds":0.36,"Ids":0.145},{"curve":"E","Vds":0.38,"Ids":0.145},{"curve":"E","Vds":0.4,"Ids":0.145},{"curve":"E","Vds":0.42,"Ids":0.145},{"curve":"E","Vds":0.44,"Ids":0.145},{"curve":"E","Vds":0.46,"Ids":0.145},{"curve":"E","Vds":0.48,"Ids":0.145},{"curve":"E","Vds":0.5,"Ids":0.145},{"curve":"E","Vds":0.52,"Ids":0.145},{"curve":"E","Vds":0.54,"Ids":0.145},{"curve":"E","Vds":0.56,"Ids":0.145},{"curve":"E","Vds":0.58,"Ids":0.145},{"curve":"E","Vds":0.6,"Ids":0.145},{"curve":"E","Vds":0.62,"Ids":0.145},{"curve":"E","Vds":0.64,"Ids":0.145},{"curve":"E","Vds":0.66,"Ids":0.145},{"curve":"E","Vds":0.68,"Ids":0.145},{"curve":"E","Vds":0.7,"Ids":0.145},{"curve":"E","Vds":0.72,"Ids":0.145},{"curve":"E","Vds":0.74,"Ids":0.145},{"curve":"E","Vds":0.76,"Ids":0.145},{"curve":"E","Vds":0.78,"Ids":0.145},{"curve":"E","Vds":0.8,"Ids":0.145},{"curve":"E","Vds":0.82,"Ids":0.145},{"curve":"E","Vds":0.84,"Ids":0.145},{"curve":"E","Vds":0.86,"Ids":0.145},{"curve":"E","Vds":0.88,"Ids":0.145},{"curve":"E","Vds":0.9,"Ids":0.145},{"curve":"E","Vds":0.92,"Ids":0.145},{"curve":"E","Vds":0.94,"Ids":0.145},{"curve":"E","Vds":0.96,"Ids":0.145},{"curve":"E","Vds":0.98,"Ids":0.145},{"curve":"E","Vds":1.0,"Ids":0.145},{"curve":"E","Vds":1.02,"Ids":0.145},{"curve":"E","Vds":1.04,"Ids":0.145},{"curve":"E","Vds":1.06,"Ids":0.145},{"curve":"E","Vds":1.08,"Ids":0.145},{"curve":"E","Vds":1.1,"Ids":0.145},{"curve":"E","Vds":1.12,"Ids":0.145},{"curve":"E","Vds":1.14,"Ids":0.145},{"curve":"E","Vds":1.16,"Ids":0.145},{"curve":"E","Vds":1.18,"Ids":0.145},{"curve":"E","Vds":1.2,"Ids":0.145},{"curve":"E","Vds":1.22,"Ids":0.145},{"curve":"E","Vds":1.24,"Ids":0.145},{"curve":"E","Vds":1.26,"Ids":0.145},{"curve":"E","Vds":1.28,"Ids":0.145},{"curve":"E","Vds":1.3,"Ids":0.145},{"curve":"E","Vds":1.32,"Ids":0.145},{"curve":"E","Vds":1.34,"Ids":0.145},{"curve":"E","Vds":1.36,"Ids":0.145},{"curve":"E","Vds":1.38,"Ids":0.145},{"curve":"E","Vds":1.4,"Ids":0.145},{"curve":"E","Vds":1.42,"Ids":0.145},{"curve":"E","Vds":1.44,"Ids":0.145},{"curve":"E","Vds":1.46,"Ids":0.145},{"curve":"E","Vds":1.48,"Ids":0.145},{"curve":"E","Vds":1.5,"Ids":0.145},
{"curve":"F","Vds":0.1,"Ids":0.045},{"curve":"F","Vds":0.12,"Ids":0.052},{"curve":"F","Vds":0.14,"Ids":0.056},{"curve":"F","Vds":0.16,"Ids":0.057},{"curve":"F","Vds":0.18,"Ids":0.058},{"curve":"F","Vds":0.2,"Ids":0.058},{"curve":"F","Vds":0.22,"Ids":0.058},{"curve":"F","Vds":0.24,"Ids":0.058},{"curve":"F","Vds":0.26,"Ids":0.058},{"curve":"F","Vds":0.28,"Ids":0.058},{"curve":"F","Vds":0.3,"Ids":0.058},{"curve":"F","Vds":0.32,"Ids":0.058},{"curve":"F","Vds":0.34,"Ids":0.058},{"curve":"F","Vds":0.36,"Ids":0.058},{"curve":"F","Vds":0.38,"Ids":0.058},{"curve":"F","Vds":0.4,"Ids":0.058},{"curve":"F","Vds":0.42,"Ids":0.058},{"curve":"F","Vds":0.44,"Ids":0.058},{"curve":"F","Vds":0.46,"Ids":0.058},{"curve":"F","Vds":0.48,"Ids":0.058},{"curve":"F","Vds":0.5,"Ids":0.058},{"curve":"F","Vds":0.52,"Ids":0.058},{"curve":"F","Vds":0.54,"Ids":0.058},{"curve":"F","Vds":0.56,"Ids":0.058},{"curve":"F","Vds":0.58,"Ids":0.058},{"curve":"F","Vds":0.6,"Ids":0.058},{"curve":"F","Vds":0.62,"Ids":0.058},{"curve":"F","Vds":0.64,"Ids":0.058},{"curve":"F","Vds":0.66,"Ids":0.058},{"curve":"F","Vds":0.68,"Ids":0.058},{"curve":"F","Vds":0.7,"Ids":0.058},{"curve":"F","Vds":0.72,"Ids":0.058},{"curve":"F","Vds":0.74,"Ids":0.058},{"curve":"F","Vds":0.76,"Ids":0.058},{"curve":"F","Vds":0.78,"Ids":0.058},{"curve":"F","Vds":0.8,"Ids":0.058},{"curve":"F","Vds":0.82,"Ids":0.058},{"curve":"F","Vds":0.84,"Ids":0.058},{"curve":"F","Vds":0.86,"Ids":0.058},{"curve":"F","Vds":0.88,"Ids":0.058},{"curve":"F","Vds":0.9,"Ids":0.058},{"curve":"F","Vds":0.92,"Ids":0.058},{"curve":"F","Vds":0.94,"Ids":0.058},{"curve":"F","Vds":0.96,"Ids":0.058},{"curve":"F","Vds":0.98,"Ids":0.058},{"curve":"F","Vds":1.0,"Ids":0.058},{"curve":"F","Vds":1.02,"Ids":0.058},{"curve":"F","Vds":1.04,"Ids":0.058},{"curve":"F","Vds":1.06,"Ids":0.058},{"curve":"F","Vds":1.08,"Ids":0.058},{"curve":"F","Vds":1.1,"Ids":0.058},{"curve":"F","Vds":1.12,"Ids":0.058},{"curve":"F","Vds":1.14,"Ids":0.058},{"curve":"F","Vds":1.16,"Ids":0.058},{"curve":"F","Vds":1.18,"Ids":0.058},{"curve":"F","Vds":1.2,"Ids":0.058},{"curve":"F","Vds":1.22,"Ids":0.058},{"curve":"F","Vds":1.24,"Ids":0.058},{"curve":"F","Vds":1.26,"Ids":0.058},{"curve":"F","Vds":1.28,"Ids":0.058},{"curve":"F","Vds":1.3,"Ids":0.058},{"curve":"F","Vds":1.32,"Ids":0.058},{"curve":"F","Vds":1.34,"Ids":0.058},{"curve":"F","Vds":1.36,"Ids":0.058},{"curve":"F","Vds":1.38,"Ids":0.058},{"curve":"F","Vds":1.4,"Ids":0.058},{"curve":"F","Vds":1.42,"Ids":0.058},{"curve":"F","Vds":1.44,"Ids":0.058},{"curve":"F","Vds":1.46,"Ids":0.058},{"curve":"F","Vds":1.48,"Ids":0.058},{"curve":"F","Vds":1.5,"Ids":0.058}
],
"idvd_hisim":[
{"curve":"A","Vds":0.1,"Ids":0.428},{"curve":"A","Vds":0.2,"Ids":0.819},{"curve":"A","Vds":0.3,"Ids":1.173},{"curve":"A","Vds":0.4,"Ids":1.489},{"curve":"A","Vds":0.5,"Ids":1.768},{"curve":"A","Vds":0.6,"Ids":2.01},{"curve":"A","Vds":0.7,"Ids":2.215},{"curve":"A","Vds":0.8,"Ids":2.382},{"curve":"A","Vds":0.9,"Ids":2.513},{"curve":"A","Vds":1.0,"Ids":2.606},{"curve":"A","Vds":1.1,"Ids":2.661},{"curve":"A","Vds":1.2,"Ids":2.68},{"curve":"A","Vds":1.5,"Ids":2.68},
{"curve":"B","Vds":0.1,"Ids":0.29},{"curve":"B","Vds":0.15,"Ids":0.5},{"curve":"B","Vds":0.2,"Ids":0.69},{"curve":"B","Vds":0.25,"Ids":0.87},{"curve":"B","Vds":0.3,"Ids":1.03},{"curve":"B","Vds":0.4,"Ids":1.33},{"curve":"B","Vds":0.5,"Ids":1.58},{"curve":"B","Vds":0.6,"Ids":1.78},{"curve":"B","Vds":0.7,"Ids":1.95},{"curve":"B","Vds":0.8,"Ids":2.08},{"curve":"B","Vds":0.9,"Ids":2.17},{"curve":"B","Vds":1.0,"Ids":2.225},{"curve":"B","Vds":1.1,"Ids":2.25},{"curve":"B","Vds":1.15,"Ids":2.256},{"curve":"B","Vds":1.5,"Ids":2.256},
{"curve":"C","Vds":0.1,"Ids":0.274},{"curve":"C","Vds":0.2,"Ids":0.509},{"curve":"C","Vds":0.3,"Ids":0.703},{"curve":"C","Vds":0.4,"Ids":0.858},{"curve":"C","Vds":0.5,"Ids":0.974},{"curve":"C","Vds":0.6,"Ids":1.049},{"curve":"C","Vds":0.7,"Ids":1.085},{"curve":"C","Vds":0.74,"Ids":1.088},{"curve":"C","Vds":1.5,"Ids":1.088},
{"curve":"D","Vds":0.1,"Ids":0.231},{"curve":"D","Vds":0.2,"Ids":0.423},{"curve":"D","Vds":0.3,"Ids":0.576},{"curve":"D","Vds":0.4,"Ids":0.69},{"curve":"D","Vds":0.5,"Ids":0.765},{"curve":"D","Vds":0.6,"Ids":0.8},{"curve":"D","Vds":0.64,"Ids":0.803},{"curve":"D","Vds":1.5,"Ids":0.803},
{"curve":"E","Vds":0.1,"Ids":0.078},{"curve":"E","Vds":0.12,"Ids":0.101},{"curve":"E","Vds":0.14,"Ids":0.118},{"curve":"E","Vds":0.16,"Ids":0.13},{"curve":"E","Vds":0.2,"Ids":0.141},{"curve":"E","Vds":0.26,"Ids":0.145},{"curve":"E","Vds":1.5,"Ids":0.145},
{"curve":"F","Vds":0.1,"Ids":0.046},{"curve":"F","Vds":0.12,"Ids":0.052},{"curve":"F","Vds":0.14,"Ids":0.056},{"curve":"F","Vds":0.18,"Ids":0.058},{"curve":"F","Vds":1.5,"Ids":0.058}
]
},
"hconcat":[
{
"width":679,"height":515,
"view":{"stroke":"#1a1a1a","strokeWidth":2.5},
"resolve":{"axis":{"x":"independent","y":"independent"}},
"layer":[
{"data":{"name":"idvg_hisim"},
"mark":{"type":"line","color":"#fba41f","strokeWidth":3.5,"interpolate":"monotone"},
"encoding":{
"x":{"field":"Vgs","type":"quantitative","scale":{"domain":[-0.5,1.5],"nice":false,"zero":false},
"axis":{"orient":"bottom","values":[-0.5,0,0.5,1,1.5],"labelExpr":"datum.value < 0 ? '-0.5' : format(datum.value, '~g')","labelFontSize":46,"labelPadding":17}},
"y":{"field":"logIds","type":"quantitative","scale":{"domain":[-13,-3.516],"nice":false,"zero":false},
"axis":{"orient":"left","values":[-13,-11,-9,-7,-5],"labelExpr":"'10'","labelFontSize":46,"labelPadding":52}},
"detail":{"field":"Vbs","type":"nominal"}}},
{"data":{"name":"idvg_meas"},
"mark":{"type":"point","shape":"circle","filled":true,"size":48,"color":"#22107f","opacity":1},
"encoding":{
"x":{"field":"Vgs","type":"quantitative","axis":{"orient":"top","values":[-0.5,0,0.5,1,1.5],"labels":false}},
"y":{"field":"logIds","type":"quantitative","axis":{"orient":"right","values":[-13,-11,-9,-7,-5],"labels":false}}}},
{"data":{"name":"decades"},
"mark":{"type":"text","align":"left","baseline":"middle","dx":-38,"dy":-30,"fontSize":34},
"encoding":{"x":{"datum":-0.5,"type":"quantitative","axis":null},"y":{"field":"logIds","type":"quantitative","axis":null},"text":{"field":"exp"}}},
{"data":{"name":"one"},"mark":{"type":"rule","color":"#111","strokeWidth":2},
"encoding":{"x":{"datum":-0.05,"type":"quantitative","axis":null},"x2":{"datum":0.47},"y":{"datum":-6.59,"type":"quantitative","axis":null}}},
{"data":{"name":"one"},"mark":{"type":"point","shape":"M -1 -1 L 1 0 L -1 1 L -0.45 0 Z","filled":true,"size":1024,"color":"#22107f","opacity":1},
"encoding":{"x":{"datum":0.494,"type":"quantitative","axis":null},"y":{"datum":-6.59,"type":"quantitative","axis":null}}},
{"data":{"name":"one"},"mark":{"type":"rule","color":"#fba41f","strokeWidth":3.5},
"encoding":{"x":{"datum":0.2305,"type":"quantitative","axis":null},"x2":{"datum":0.3925},"y":{"datum":-9.538,"type":"quantitative","axis":null}}},
{"data":{"name":"one"},"mark":{"type":"point","shape":"circle","filled":true,"size":80,"color":"#22107f","opacity":1},
"encoding":{"x":{"datum":0.289,"type":"quantitative","axis":null},"y":{"datum":-10.42,"type":"quantitative","axis":null}}},
{"data":{"name":"one"},"mark":{"type":"text","text":"HiSIM","align":"left","baseline":"alphabetic","fontSize":56},
"encoding":{"x":{"datum":0.428,"type":"quantitative","axis":null},"y":{"datum":-9.72,"type":"quantitative","axis":null}}},
{"data":{"name":"one"},"mark":{"type":"text","text":"measurement","align":"left","baseline":"alphabetic","fontSize":56},
"encoding":{"x":{"datum":0.428,"type":"quantitative","axis":null},"y":{"datum":-10.75,"type":"quantitative","axis":null}}},
{"data":{"name":"one"},"mark":{"type":"text","text":"V","align":"left","baseline":"alphabetic","fontSize":58,"fontStyle":"italic"},
"encoding":{"x":{"datum":0.045,"type":"quantitative","axis":null},"y":{"datum":-12.28,"type":"quantitative","axis":null}}},
{"data":{"name":"one"},"mark":{"type":"text","text":"bs","align":"left","baseline":"alphabetic","fontSize":40},
"encoding":{"x":{"datum":0.1686,"type":"quantitative","axis":null},"y":{"datum":-12.39,"type":"quantitative","axis":null}}},
{"data":{"name":"one"},"mark":{"type":"text","text":"= 0.0","align":"left","baseline":"alphabetic","fontSize":58},
"encoding":{"x":{"datum":0.2806,"type":"quantitative","axis":null},"y":{"datum":-12.28,"type":"quantitative","axis":null}}},
{"data":{"name":"one"},"mark":{"type":"text","text":"→","align":"left","baseline":"alphabetic","fontSize":56,"font":"DejaVu Serif"},
"encoding":{"x":{"datum":0.672,"type":"quantitative","axis":null},"y":{"datum":-12.28,"type":"quantitative","axis":null}}},
{"data":{"name":"one"},"mark":{"type":"text","text":"−1.5V","align":"left","baseline":"alphabetic","fontSize":58},
"encoding":{"x":{"datum":0.86,"type":"quantitative","axis":null},"y":{"datum":-12.28,"type":"quantitative","axis":null}}},
{"data":{"name":"one"},"mark":{"type":"text","text":"V","align":"left","baseline":"alphabetic","fontSize":52,"fontStyle":"italic"},
"encoding":{"x":{"datum":0.2423,"type":"quantitative","axis":null},"y":{"datum":-14.73,"type":"quantitative","axis":null}}},
{"data":{"name":"one"},"mark":{"type":"text","text":"gs","align":"left","baseline":"alphabetic","fontSize":38},
"encoding":{"x":{"datum":0.352,"type":"quantitative","axis":null},"y":{"datum":-14.9,"type":"quantitative","axis":null}}},
{"data":{"name":"one"},"mark":{"type":"text","text":"(V)","align":"left","baseline":"alphabetic","fontSize":52},
"encoding":{"x":{"datum":0.469,"type":"quantitative","axis":null},"y":{"datum":-14.73,"type":"quantitative","axis":null}}},
{"data":{"name":"one"},"mark":{"type":"text","text":"I","align":"left","baseline":"alphabetic","fontSize":76,"fontStyle":"italic","angle":270},
"encoding":{"x":{"datum":-0.8004,"type":"quantitative","axis":null},"y":{"datum":-10.735,"type":"quantitative","axis":null}}},
{"data":{"name":"one"},"mark":{"type":"text","text":"ds","align":"left","baseline":"alphabetic","fontSize":44,"angle":270},
"encoding":{"x":{"datum":-0.7651,"type":"quantitative","axis":null},"y":{"datum":-9.925,"type":"quantitative","axis":null}}},
{"data":{"name":"one"},"mark":{"type":"text","text":"(A)","align":"left","baseline":"alphabetic","fontSize":54,"angle":270},
"encoding":{"x":{"datum":-0.8004,"type":"quantitative","axis":null},"y":{"datum":-8.975,"type":"quantitative","axis":null}}}
]
},
{
"width":640,"height":482,
"view":{"stroke":"#555","strokeWidth":2},
"resolve":{"axis":{"x":"independent","y":"independent"}},
"layer":[
{"data":{"name":"idvd_hisim"},
"mark":{"type":"line","color":"#f37a24","strokeWidth":3,"interpolate":"monotone"},
"encoding":{
"x":{"field":"Vds","type":"quantitative","scale":{"domain":[0,1.6],"nice":false,"zero":false},
"axis":{"orient":"bottom","values":[0,0.2,0.4,0.6,0.8,1.0,1.2,1.4,1.6],"labelExpr":"(round(datum.value*10) % 4 == 0) ? format(datum.value, '.1~f') : ''","labelFontSize":50,"labelPadding":17,"tickColor":"#555"}},
"y":{"field":"Ids","type":"quantitative","scale":{"domain":[0,3],"nice":false,"zero":false},
"axis":{"orient":"left","values":[0,0.5,1,1.5,2,2.5,3],"labelExpr":"(round(datum.value*2) % 2 == 0) ? format(datum.value, 'd') : ''","labelFontSize":50,"labelPadding":31,"labelOffset":5,"tickColor":"#555"}},
"detail":{"field":"curve","type":"nominal"}}},
{"data":{"name":"idvd_meas"},
"mark":{"type":"point","shape":"circle","filled":true,"size":26,"color":"#2a1a90","opacity":1},
"encoding":{
"x":{"field":"Vds","type":"quantitative","axis":{"orient":"top","values":[0,0.2,0.4,0.6,0.8,1.0,1.2,1.4,1.6],"labels":false,"tickColor":"#555"}},
"y":{"field":"Ids","type":"quantitative","axis":{"orient":"right","values":[0,0.5,1,1.5,2,2.5,3],"labels":false,"tickColor":"#555"}}}},
{"data":{"name":"one"},"mark":{"type":"text","text":"I","align":"left","baseline":"alphabetic","fontSize":64,"fontStyle":"italic","angle":270},
"encoding":{"x":{"datum":-0.1725,"type":"quantitative","axis":null},"y":{"datum":0.4605,"type":"quantitative","axis":null}}},
{"data":{"name":"one"},"mark":{"type":"text","text":"ds","align":"left","baseline":"alphabetic","fontSize":44,"angle":270},
"encoding":{"x":{"datum":-0.1475,"type":"quantitative","axis":null},"y":{"datum":0.6969,"type":"quantitative","axis":null}}},
{"data":{"name":"one"},"mark":{"type":"text","text":"(x10","align":"left","baseline":"alphabetic","fontSize":48,"angle":270},
"encoding":{"x":{"datum":-0.1775,"type":"quantitative","axis":null},"y":{"datum":0.955,"type":"quantitative","axis":null}}},
{"data":{"name":"one"},"mark":{"type":"text","text":"-4","align":"left","baseline":"alphabetic","fontSize":34,"angle":270},
"encoding":{"x":{"datum":-0.2125,"type":"quantitative","axis":null},"y":{"datum":1.51,"type":"quantitative","axis":null}}},
{"data":{"name":"one"},"mark":{"type":"text","text":"A)","align":"left","baseline":"alphabetic","fontSize":48,"angle":270},
"encoding":{"x":{"datum":-0.1775,"type":"quantitative","axis":null},"y":{"datum":1.685,"type":"quantitative","axis":null}}},
{"data":{"name":"one"},"mark":{"type":"text","text":"V","align":"left","baseline":"alphabetic","fontSize":52,"fontStyle":"italic"},
"encoding":{"x":{"datum":0.76,"type":"quantitative","axis":null},"y":{"datum":-0.69,"type":"quantitative","axis":null}}},
{"data":{"name":"one"},"mark":{"type":"text","text":"ds","align":"left","baseline":"alphabetic","fontSize":38},
"encoding":{"x":{"datum":0.853,"type":"quantitative","axis":null},"y":{"datum":-0.75,"type":"quantitative","axis":null}}},
{"data":{"name":"one"},"mark":{"type":"text","text":"(V)","align":"left","baseline":"alphabetic","fontSize":52},
"encoding":{"x":{"datum":0.95,"type":"quantitative","axis":null},"y":{"datum":-0.69,"type":"quantitative","axis":null}}}
]
}
]
}
